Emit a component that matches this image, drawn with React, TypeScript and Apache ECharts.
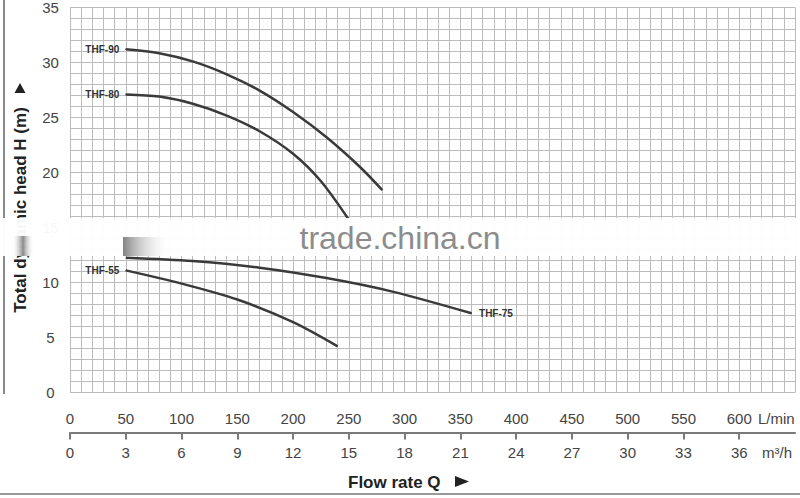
import React, { useEffect, useRef } from "react";
import * as echarts from "echarts";

// ---- data ----
const yTicks = [0, 5, 10, 15, 20, 25, 30, 35];
const lpmTicks = [0, 50, 100, 150, 200, 250, 300, 350, 400, 450, 500, 550, 600];
const m3hTicks = [0, 3, 6, 9, 12, 15, 18, 21, 24, 27, 30, 33, 36];

const thf90Q = [50, 80, 110, 140, 170, 200, 230, 260, 280];
const thf90H = [31.2, 30.85, 30.1, 28.95, 27.45, 25.5, 23.2, 20.5, 18.4];
const thf80Q = [50, 80, 110, 140, 170, 200, 225, 250];
const thf80H = [27.1, 26.9, 26.25, 25.2, 23.75, 21.7, 19.2, 15.7];
const thf75Q = [50, 110, 170, 230, 290, 360];
const thf75H = [12.25, 11.95, 11.35, 10.4, 9.15, 7.2];
const thf55Q = [50, 100, 150, 200, 240];
const thf55H = [11.1, 9.9, 8.45, 6.4, 4.2];

const curveNames = ["THF-90", "THF-80", "THF-75", "THF-55"];
const curveQ = [thf90Q, thf80Q, thf75Q, thf55Q];
const curveH = [thf90H, thf80H, thf75H, thf55H];
const labelAtEnd = [false, false, true, false];

const FONT = '"Liberation Sans", Arial, sans-serif';
const GRID = "#bcbcbc";

export default function App() {
  const ref = useRef<HTMLDivElement>(null);
  useEffect(() => {
    if (!ref.current) return;
    const chart = echarts.init(ref.current, undefined, { renderer: "svg" });

    const series = curveNames.map((name, i) => {
      const qs = curveQ[i];
      const hs = curveH[i];
      const last = qs.length - 1;
      const data = qs.map((q, j) => {
        const isLabel = labelAtEnd[i] ? j === last : j === 0;
        const item: any = { value: [q, hs[j]] };
        if (isLabel) {
          item.symbol = "circle";
          item.symbolSize = 1;
          item.itemStyle = { color: "#3a3a3a" };
          item.label = {
            show: true,
            position: labelAtEnd[i] ? "right" : "left",
            distance: labelAtEnd[i] ? 7 : 6,
            formatter: name,
            fontFamily: FONT,
            fontWeight: "bold",
            fontSize: 10,
            color: "#333",
          };
        } else {
          item.symbol = "none";
        }
        return item;
      });
      return {
        name,
        type: "line",
        xAxisIndex: 0,
        yAxisIndex: 0,
        smooth: 0.3,
        symbol: "circle",
        symbolSize: 1,
        showSymbol: true,
        showAllSymbol: true,
        lineStyle: { color: "#3a3a3a", width: 2.5 },
        label: { show: false },
        data,
        z: 5,
      };
    });

    const option: any = {
      animation: false,
      backgroundColor: "#ffffff",
      grid: { left: 70, right: 5, top: 4.5, bottom: 105.5, containLabel: false },
      xAxis: [
        {
          type: "value",
          min: 0,
          max: 650,
          interval: 10,
          axisLine: { show: false },
          axisTick: { show: false },
          axisLabel: { show: false },
          splitLine: { show: true, lineStyle: { color: GRID, width: 1 } },
        },
        {
          type: "value",
          position: "bottom",
          offset: 0,
          min: 0,
          max: 650,
          interval: 50,
          axisLine: { show: false },
          axisTick: { show: false },
          splitLine: { show: false },
          axisLabel: {
            show: true,
            customValues: lpmTicks,
            margin: 18,
            fontSize: 15,
            fontFamily: FONT,
            color: "#444",
          },
        },
        {
          type: "value",
          position: "bottom",
          offset: 40,
          min: 0,
          max: 39,
          interval: 3,
          axisLine: { show: true, lineStyle: { color: "#7a7a7a", width: 2 } },
          axisTick: {
            show: true,
            inside: false,
            length: 7,
            customValues: m3hTicks,
            lineStyle: { color: "#7a7a7a", width: 2 },
          },
          splitLine: { show: false },
          axisLabel: {
            show: true,
            customValues: m3hTicks,
            margin: 12,
            fontSize: 15,
            fontFamily: FONT,
            color: "#444",
          },
        },
      ],
      yAxis: [
        {
          type: "value",
          min: 0,
          max: 35,
          interval: 1,
          axisLine: { show: false },
          axisTick: { show: false },
          splitLine: { show: true, lineStyle: { color: GRID, width: 1 } },
          axisLabel: {
            show: true,
            margin: 19.5,
            align: "center",
            fontSize: 15,
            fontFamily: FONT,
            color: "#444",
            padding: [3, 0, 0, 0],
            formatter: (v: number) => (yTicks.indexOf(v) >= 0 ? String(v) : ""),
          },
        },
      ],
      series,
      graphic: [
        {
          type: "line",
          shape: { x1: 4, y1: 0, x2: 4, y2: 394 },
          style: { stroke: "#8a8a8a", lineWidth: 2 },
        },
        {
          type: "line",
          shape: { x1: 0, y1: 494, x2: 800, y2: 494 },
          style: { stroke: "#9a9a9a", lineWidth: 2 },
        },
        {
          type: "text",
          x: 20,
          y: 210,
          rotation: Math.PI / 2,
          style: {
            text: "Total dynamic head H (m)",
            font: `bold 17px ${FONT}`,
            fill: "#222",
            align: "center",
            verticalAlign: "middle",
          },
        },
        {
          type: "polygon",
          shape: { points: [[14.5, 93], [25.5, 93], [20, 83]] },
          style: { fill: "#222" },
        },
        {
          type: "text",
          x: 348,
          y: 482,
          style: {
            text: "Flow rate Q",
            font: `bold 17px ${FONT}`,
            fill: "#222",
            align: "left",
            verticalAlign: "middle",
          },
        },
        {
          type: "polygon",
          shape: { points: [[455, 476], [455, 487], [469, 481.5]] },
          style: { fill: "#222" },
        },
        {
          type: "text",
          x: 758,
          y: 418,
          style: {
            text: "L/min",
            font: `15px ${FONT}`,
            fill: "#444",
            align: "left",
            verticalAlign: "middle",
          },
        },
        {
          type: "text",
          x: 762,
          y: 452,
          style: {
            text: "m³/h",
            font: `15px ${FONT}`,
            fill: "#444",
            align: "left",
            verticalAlign: "middle",
          },
        },
        // watermark band
        {
          type: "rect",
          z: 100,
          shape: { x: 0, y: 218, width: 800, height: 38 },
          style: { fill: "rgba(255,255,255,0.96)" },
        },
        {
          type: "rect",
          z: 101,
          shape: { x: 12, y: 236, width: 22, height: 20 },
          style: {
            fill: new echarts.graphic.LinearGradient(0, 0, 1, 0, [
              { offset: 0, color: "rgba(255,255,255,0)" },
              { offset: 0.5, color: "rgba(110,110,110,0.8)" },
              { offset: 1, color: "rgba(255,255,255,0)" },
            ]),
          },
        },
        {
          type: "rect",
          z: 101,
          shape: { x: 123, y: 237, width: 48, height: 19 },
          style: {
            fill: new echarts.graphic.LinearGradient(0, 0, 1, 0, [
              { offset: 0, color: "rgba(100,100,100,0.8)" },
              { offset: 1, color: "rgba(255,255,255,0)" },
            ]),
          },
        },
        {
          type: "text",
          z: 102,
          x: 400,
          y: 238,
          style: {
            text: "trade.china.cn",
            font: `32px ${FONT}`,
            fill: "#8c8c8c",
            align: "center",
            verticalAlign: "middle",
          },
        },
      ],
    };

    chart.setOption(option);
    return () => chart.dispose();
  }, []);

  return <div ref={ref} style={{ width: 800, height: 498, position: "absolute", left: 0, top: 0 }} />;
}
